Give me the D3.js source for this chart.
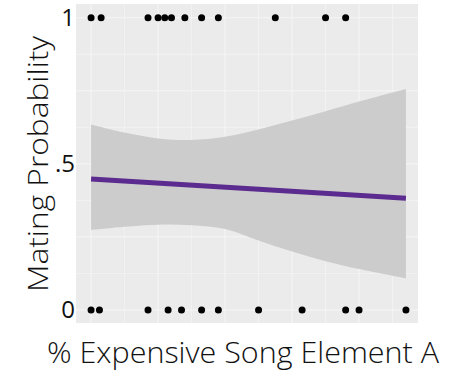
<!DOCTYPE html>
<html>
<head>
<meta charset="utf-8">
<script src="https://cdn.jsdelivr.net/npm/d3@7"></script>
<style>
  body { margin: 0; background: #fff; }
  text { font-family: "Open Sans", "Noto Sans", sans-serif; font-weight: 300; fill: #111; }
</style>
</head>
<body>
<script>
const width = 462;
const height = 373;

// observed outcomes (x = % expensive element)
const matedX = [0, 3, 17, 20, 22, 24, 28, 33, 38, 55, 70, 76];
const unmatedX = [0, 2.5, 17, 23, 27, 33, 38, 50, 63, 76, 80, 94];

// fitted line and confidence band
const fitX = [0, 94];
const fitY = [0.448, 0.382];
const bandX = [0, 10, 20, 30, 40, 50, 60, 70, 80, 94];
const bandHi = [0.635, 0.607, 0.587, 0.582, 0.593, 0.618, 0.648, 0.680, 0.713, 0.756];
const bandLo = [0.274, 0.285, 0.292, 0.290, 0.277, 0.238, 0.200, 0.167, 0.140, 0.108];

const yTicks = [0, 0.5, 1];
const yTickLabels = ['0', '.5', '1'];

const panel = {left: 76, right: 418, top: 4, bottom: 323};

const svg = d3.select('body').append('svg')
    .attr('width', width)
    .attr('height', height);

const xScale = d3.scaleLinear().domain([-4.5, 97.6]).range([panel.left, panel.right]);
const yScale = d3.scaleLinear().domain([-0.0445, 1.047]).range([panel.bottom, panel.top]);

svg.append('rect')
    .attr('x', panel.left).attr('y', panel.top)
    .attr('width', panel.right - panel.left)
    .attr('height', panel.bottom - panel.top)
    .attr('fill', '#ebebeb');

// grid
const grid = svg.append('g').attr('stroke', '#f6f6f6');
grid.selectAll('line.vx')
    .data(d3.range(0, 91, 10))
    .enter().append('line')
    .attr('x1', d => xScale(d)).attr('x2', d => xScale(d))
    .attr('y1', panel.top).attr('y2', panel.bottom)
    .attr('stroke-width', d => d % 20 === 0 ? 1 : 0.6);
grid.selectAll('line.hy')
    .data(d3.range(0, 1.001, 0.125))
    .enter().append('line')
    .attr('y1', d => yScale(d)).attr('y2', d => yScale(d))
    .attr('x1', panel.left).attr('x2', panel.right)
    .attr('stroke-width', d => (d * 4) % 1 === 0 ? 1 : 0.6);

// confidence band
const band = bandX.map((x, i) => ({x, hi: bandHi[i], lo: bandLo[i]}));
svg.append('path')
    .datum(band)
    .attr('fill', '#c9c9c9')
    .attr('fill-opacity', 0.92)
    .attr('d', d3.area()
        .x(d => xScale(d.x))
        .y0(d => yScale(d.lo))
        .y1(d => yScale(d.hi))
        .curve(d3.curveCatmullRom));

// fit line
svg.append('path')
    .datum(fitX.map((x, i) => [x, fitY[i]]))
    .attr('fill', 'none')
    .attr('stroke', '#5b2b8f')
    .attr('stroke-width', 5)
    .attr('d', d3.line().x(d => xScale(d[0])).y(d => yScale(d[1])));

// points
const pts = matedX.map(x => [x, 1]).concat(unmatedX.map(x => [x, 0]));
svg.append('g').selectAll('circle')
    .data(pts)
    .enter().append('circle')
    .attr('cx', d => xScale(d[0]))
    .attr('cy', d => yScale(d[1]))
    .attr('r', 3.5)
    .attr('fill', '#000');

// y axis
const yAxis = d3.axisLeft(yScale)
    .tickValues(yTicks)
    .tickFormat((d, i) => yTickLabels[i])
    .tickSize(0)
    .tickPadding(1);
const yAxisGroup = svg.append('g')
    .attr('transform', `translate(${panel.left},0)`)
    .call(yAxis);
yAxisGroup.select('.domain').remove();
yAxisGroup.selectAll('.tick text')
    .attr('font-size', 24)
    .attr('font-family', null)
    .style('font-weight', 400)
    .attr('fill', '#111');

// axis titles
svg.append('text')
    .attr('x', 243).attr('y', 363)
    .attr('text-anchor', 'middle')
    .attr('font-size', 29)
    .attr('textLength', 392)
    .attr('lengthAdjust', 'spacingAndGlyphs')
    .text('% Expensive Song Element A');

svg.append('text')
    .attr('transform', 'translate(48,164) rotate(-90)')
    .attr('text-anchor', 'middle')
    .attr('font-size', 28)
    .attr('textLength', 256)
    .attr('lengthAdjust', 'spacingAndGlyphs')
    .text('Mating Probability');
</script>
</body>
</html>
